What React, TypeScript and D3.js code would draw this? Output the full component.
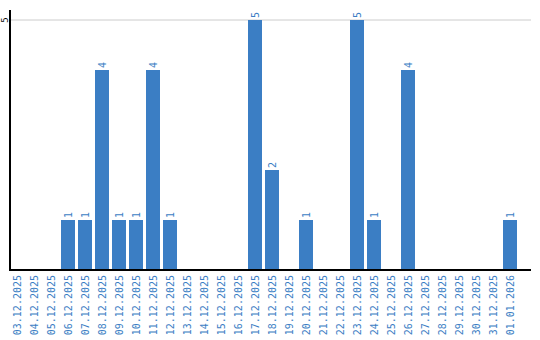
import React from "react";
import * as d3 from "d3";

const categories = [
  "03.12.2025","04.12.2025","05.12.2025","06.12.2025","07.12.2025","08.12.2025",
  "09.12.2025","10.12.2025","11.12.2025","12.12.2025","13.12.2025","14.12.2025",
  "15.12.2025","16.12.2025","17.12.2025","18.12.2025","19.12.2025","20.12.2025",
  "21.12.2025","22.12.2025","23.12.2025","24.12.2025","25.12.2025","26.12.2025",
  "27.12.2025","28.12.2025","29.12.2025","30.12.2025","31.12.2025","01.01.2026",
];
const values = [0,0,0,1,1,4,1,1,4,1,0,0,0,0,5,2,0,1,0,0,5,1,0,4,0,0,0,0,0,1];
const yTicks = [5];

const W = 540, H = 340;
const BLUE = "#3b7ec4";
const FONT = "'DejaVu Sans Mono', 'Liberation Mono', monospace";

export default function App() {
  const x = d3.scaleBand<string>().domain(categories).range([10, 517]).paddingInner(3 / 17).paddingOuter(0);
  const y = d3.scaleLinear().domain([0, 5]).range([270, 20]);
  const bw = x.bandwidth();
  return (
    <svg width={W} height={H} style={{ position: "absolute", left: 0, top: 0 }} fontFamily={FONT}>
      <rect width={W} height={H} fill="#fff" />
      {yTicks.map((t) => (
        <g key={t}>
          <line x1={10} x2={531} y1={y(t)} y2={y(t)} stroke="#cccccc" strokeWidth={1} />
          <text transform={`translate(5,${y(t)}) rotate(-90)`} textAnchor="middle" dominantBaseline="central" fontSize={9} fill="#000">{t}</text>
        </g>
      ))}
      {categories.map((c, i) => {
        const v = values[i];
        const cx = (x(c) as number) + bw / 2;
        return (
          <g key={c}>
            {v > 0 && (
              <>
                <rect x={x(c)} y={y(v)} width={bw} height={y(0) - y(v)} fill={BLUE} />
                <text transform={`translate(${cx},${y(v) - 2}) rotate(-90)`} textAnchor="start" dominantBaseline="central" fontSize={10} fill={BLUE}>{v}</text>
              </>
            )}
            <text transform={`translate(${cx},275) rotate(-90)`} textAnchor="end" dominantBaseline="central" fontSize={10} fill={BLUE}>{c}</text>
          </g>
        );
      })}
      <line x1={10} x2={10} y1={10} y2={271} stroke="#000" strokeWidth={2} />
      <line x1={9} x2={531} y1={270} y2={270} stroke="#000" strokeWidth={2} />
    </svg>
  );
}
